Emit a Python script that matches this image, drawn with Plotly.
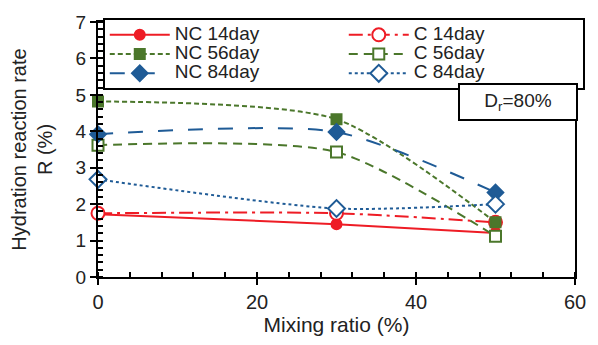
import plotly.graph_objects as go

mixing_ratio = [0, 30, 50]
nc_14 = [1.72, 1.45, 1.21]
c_14 = [1.75, 1.75, 1.50]
nc_56 = [4.82, 4.33, 1.50]
c_56 = [3.62, 3.43, 1.12]
nc_84 = [3.92, 3.98, 2.32]
c_84 = [2.68, 1.88, 2.00]

RED = "#ee1c25"
GREEN = "#4b772b"
BLUE = "#1f5b96"
FONT = "Liberation Sans, Arial"
TXT = "#222"

series = [
    ("NC 14day", nc_14, RED, "solid", "circle", True, 10),
    ("C 14day", c_14, RED, "14px,5px,3px,5px", "circle", False, 13),
    ("NC 56day", nc_56, GREEN, "5px,3px", "square", True, 10),
    ("C 56day", c_56, GREEN, "9px,6px", "square", False, 11),
    ("NC 84day", nc_84, BLUE, "longdash", "diamond", True, 12),
    ("C 84day", c_84, BLUE, "dot", "diamond", False, 13),
]

fig = go.Figure()
for name, ys, col, dash, sym, filled, size in series:
    fig.add_trace(go.Scatter(
        x=mixing_ratio, y=ys, mode="lines+markers", cliponaxis=False,
        name='<span style="font-size:19px">' + name + '</span>',
        line=dict(color=col, width=2, dash=dash, shape="spline", smoothing=0.7),
        marker=dict(symbol=sym, size=size, color=col if filled else "white",
                    line=dict(color=col, width=2)),
    ))

axis_common = dict(
    showline=True, linecolor="black", linewidth=2, mirror=True,
    ticks="outside", ticklen=6, tickwidth=2, tickcolor="black",
    showgrid=False, zeroline=False,
)

fig.update_xaxes(
    range=[0, 60], tickvals=[0, 20, 40, 60],
    tickfont=dict(family=FONT, size=20, color=TXT),
    minor=dict(dtick=4, ticks="inside", ticklen=5, tickwidth=1.5, tickcolor="black"),
    title=dict(text="Mixing ratio (%)", font=dict(family=FONT, size=21, color=TXT), standoff=0),
    **axis_common,
)
fig.update_yaxes(
    range=[0, 7], dtick=1,
    tickfont=dict(family=FONT, size=19, color=TXT),
    minor=dict(dtick=0.2, ticks="inside", ticklen=5, tickwidth=1.5, tickcolor="black"),
    title=dict(text="Hydration reaction rate<br>R (%)", font=dict(family=FONT, size=20, color=TXT), standoff=18),
    **axis_common,
)

fig.add_annotation(
    x=0.88, y=0.685, xref="paper", yref="paper", xanchor="center", yanchor="middle",
    text="D<sub>r</sub>=80%", showarrow=False,
    font=dict(family=FONT, size=19, color=TXT),
    bordercolor="black", borderwidth=2, borderpad=5, bgcolor="white",
    width=106,
)

fig.update_layout(
    width=598, height=345,
    margin=dict(l=98, r=15, t=16, b=68),
    paper_bgcolor="white", plot_bgcolor="white",
    legend=dict(
        orientation="h", x=0.01, y=1.015, xanchor="left", yanchor="top",
        entrywidth=164, entrywidthmode="pixels",
        bordercolor="black", borderwidth=2, bgcolor="white",
        font=dict(family=FONT, size=12.5, color=TXT),
        itemwidth=60, tracegroupgap=0,
    ),
    showlegend=True,
)

fig.write_html("out.html")
